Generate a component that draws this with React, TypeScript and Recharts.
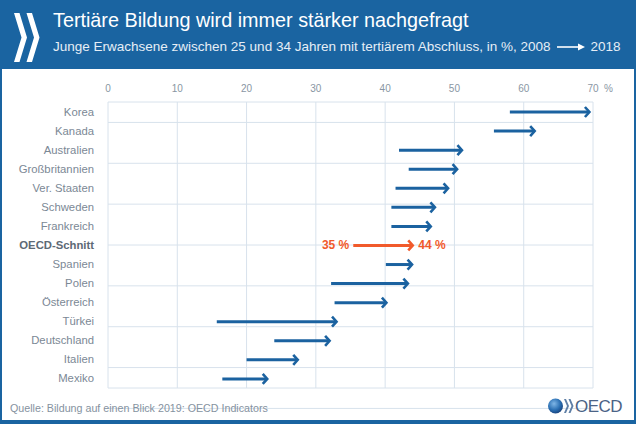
import React from 'react';
import { ComposedChart, Bar, XAxis, YAxis, CartesianGrid } from 'recharts';

// Tertiary attainment, 25-34 year olds, 2008 -> 2018
const countries = [
  'Korea',
  'Kanada',
  'Australien',
  'Großbritannien',
  'Ver. Staaten',
  'Schweden',
  'Frankreich',
  'OECD-Schnitt',
  'Spanien',
  'Polen',
  'Österreich',
  'Türkei',
  'Deutschland',
  'Italien',
  'Mexiko',
];
const values2008 = [58, 55.7, 42, 43.4, 41.5, 40.9, 40.9, 35.4, 40.1, 32.2, 32.7, 15.7, 24, 20, 16.5];
const values2018 = [69.7, 61.8, 51.3, 50.6, 49.3, 47.4, 46.8, 44.2, 44.1, 43.5, 40.4, 33.2, 32.2, 27.6, 23.2];
const xTicks = [0, 10, 20, 30, 40, 50, 60, 70];
const highlight = 'OECD-Schnitt';
// row borders for the horizontal grid lines (between the rows)
const rowBounds = Array.from({ length: countries.length + 1 }, (_, i) => i);

const BLUE = '#1b62a0';
const ORANGE = '#f15a2b';
const HEADER = '#1a64a1';
const FONT = '"Liberation Sans", Arial, sans-serif';

const data = countries.map((name, i) => ({
  name,
  from: values2008[i],
  to: values2018[i],
  range: [values2008[i], values2018[i]],
}));

// line + open arrow head, drawn from the bar's own geometry
const ArrowShape = (props: any) => {
  const { x, y, width, height, payload } = props;
  if (x == null || width == null) return null;
  const cy = y + height / 2;
  const x2 = x + width;
  const hi = payload.name === highlight;
  const color = hi ? ORANGE : BLUE;
  return (
    <g>
      <line x1={x} y1={cy} x2={x2 - 2} y2={cy} stroke={color} strokeWidth={3} />
      <polyline
        points={`${x2 - 6},${cy - 5} ${x2 - 1.5},${cy} ${x2 - 6},${cy + 5}`}
        fill="none"
        stroke={color}
        strokeWidth={2.6}
      />
      {hi && (
        <>
          <text x={x - 4} y={cy + 4} textAnchor="end" fontSize={12} fontWeight="bold" fill={ORANGE} fontFamily={FONT}>
            {Math.round(payload.from)} %
          </text>
          <text x={x2 + 4} y={cy + 4} textAnchor="start" fontSize={12} fontWeight="bold" fill={ORANGE} fontFamily={FONT}>
            {Math.round(payload.to)} %
          </text>
        </>
      )}
    </g>
  );
};

const CountryTick = ({ x, y, payload }: any) => {
  const hi = payload.value === highlight;
  return (
    <text
      x={x}
      y={y + 4}
      textAnchor="end"
      fontSize={11.3}
      fontWeight={hi ? 'bold' : 'normal'}
      fill={hi ? '#5d6975' : '#7b8895'}
      fontFamily={FONT}
    >
      {payload.value}
    </text>
  );
};

const ValueTick = ({ x, y, payload }: any) => {
  const last = payload.value === xTicks[xTicks.length - 1];
  return (
    <g>
      <text x={x} y={y} textAnchor="middle" fontSize={10} fill="#8996a3" fontFamily={FONT}>
        {payload.value}
      </text>
      {last && (
        <text x={x + 11} y={y} textAnchor="start" fontSize={10} fill="#8996a3" fontFamily={FONT}>
          %
        </text>
      )}
    </g>
  );
};

export default function App() {
  return (
    <div style={{ position: 'absolute', left: 0, top: 0, width: 636, height: 424, background: HEADER, fontFamily: FONT, overflow: 'hidden' }}>
      {/* header */}
      <svg width={50} height={70} style={{ position: 'absolute', left: 0, top: 0 }}>
        <polygon points="14,13 19.5,13 27,37.5 19.5,62 14,62 21.5,37.5" fill="#fff" />
        <polygon points="26.5,13 32,13 39.5,37.5 32,62 26.5,62 34,37.5" fill="#fff" />
      </svg>
      <div style={{ position: 'absolute', left: 53, top: 9, color: '#fff', fontSize: 19.8, whiteSpace: 'nowrap' }}>
        Tertiäre Bildung wird immer stärker nachgefragt
      </div>
      <div style={{ position: 'absolute', left: 53, top: 39, color: '#e6eef6', fontSize: 13.5, whiteSpace: 'nowrap', display: 'flex', alignItems: 'center' }}>
        <span>Junge Erwachsene zwischen 25 und 34 Jahren mit tertiärem Abschluss, in %, 2008</span>
        <svg width={30} height={10} style={{ margin: '0 5px' }}>
          <line x1={1} y1={5} x2={24} y2={5} stroke="#fff" strokeWidth={1.6} />
          <polygon points="22,1.5 29,5 22,8.5" fill="#fff" />
        </svg>
        <span>2018</span>
      </div>

      {/* white panel */}
      <div style={{ position: 'absolute', left: 2, top: 69, width: 632, height: 351, background: '#fff' }} />

      <div style={{ position: 'absolute', left: 0, top: 0 }}>
        <ComposedChart
          width={636}
          height={424}
          data={data}
          layout="vertical"
          margin={{ top: 82, right: 43, bottom: 36, left: 0 }}
        >
          <CartesianGrid stroke="#d8e2ec" strokeWidth={1} yAxisId="rows" />
          <XAxis
            type="number"
            orientation="top"
            domain={[0, 70]}
            ticks={xTicks}
            height={20}
            axisLine={false}
            tickLine={false}
            tick={<ValueTick />}
            tickMargin={4}
            interval={0}
          />
          <YAxis
            yAxisId="cat"
            type="category"
            dataKey="name"
            width={108}
            axisLine={false}
            tickLine={false}
            tick={<CountryTick />}
            tickMargin={8}
            interval={0}
          />
          <YAxis
            yAxisId="rows"
            type="number"
            domain={[0, countries.length]}
            ticks={rowBounds}
            allowDataOverflow
            hide
          />
          <Bar yAxisId="cat" dataKey="range" shape={<ArrowShape />} barSize={10} isAnimationActive={false} />
        </ComposedChart>
      </div>

      {/* footer */}
      <div style={{ position: 'absolute', left: 10, top: 402, color: '#8592a0', fontSize: 10.7, whiteSpace: 'nowrap' }}>
        Quelle: Bildung auf einen Blick 2019: OECD Indicators
      </div>
      <svg width={80} height={24} style={{ position: 'absolute', left: 546, top: 394 }}>
        <defs>
          <radialGradient id="globe" cx="40%" cy="35%" r="70%">
            <stop offset="0%" stopColor="#7fb6e6" />
            <stop offset="60%" stopColor="#2a6fb3" />
            <stop offset="100%" stopColor="#183f78" />
          </radialGradient>
        </defs>
        <circle cx={9.5} cy={12} r={7.5} fill="url(#globe)" />
        <polygon points="18,5 20,5 23,12 20,19 18,19 21,12" fill="#5f7fa6" />
        <polygon points="22.5,5 24.5,5 27.5,12 24.5,19 22.5,19 25.5,12" fill="#5f7fa6" />
        <text x={29} y={18} fontSize={17} fill="#4b6386" fontFamily={FONT} letterSpacing={-0.5}>
          OECD
        </text>
      </svg>
    </div>
  );
}
